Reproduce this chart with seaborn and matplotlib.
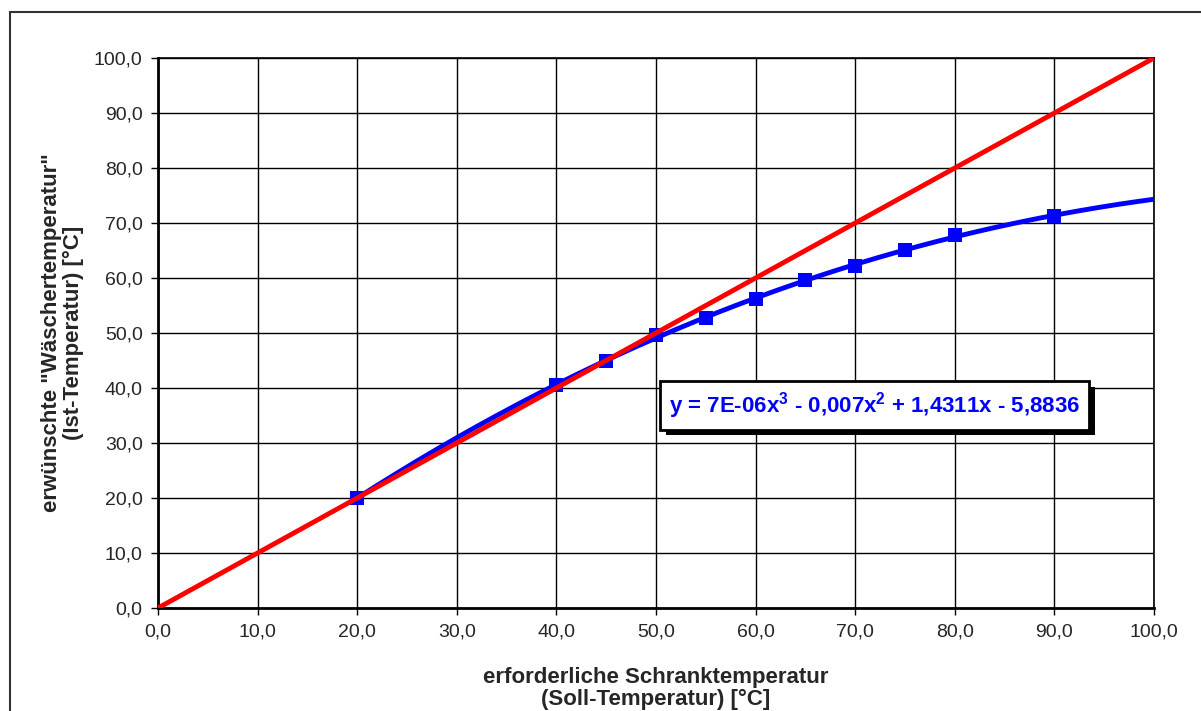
import numpy as np
import pandas as pd
import seaborn as sns
from matplotlib import pyplot as plt
from matplotlib import patches
from matplotlib import patheffects as pe
from matplotlib.ticker import FuncFormatter

# Messwerte (Soll -> Ist)
soll = [20, 40, 45, 50, 55, 60, 65, 70, 75, 80, 90]
ist = [20.0, 40.5, 45.0, 49.6, 52.7, 56.2, 59.6, 62.2, 65.1, 67.8, 71.3]
# Winkelhalbierende y = x
ref_x = [0, 100]
ref_y = [0, 100]
ticks = [0, 10, 20, 30, 40, 50, 60, 70, 80, 90, 100]
eq_text = r"y = 7E-06x$^\mathbf{3}$ - 0,007x$^\mathbf{2}$ + 1,4311x - 5,8836"

sns.set_style("white")
plt.rcParams['font.family'] = ['Liberation Sans', 'DejaVu Sans']
plt.rcParams['mathtext.fontset'] = 'custom'
plt.rcParams['mathtext.bf'] = 'Liberation Sans:bold'

fig = plt.figure(figsize=(12.01, 7.11), dpi=100)
ax = fig.add_axes([158 / 1201, 103 / 711, 996 / 1201, 550 / 711])

dfMess = pd.DataFrame({'soll': soll, 'ist': ist})

# Polynom-Trendlinie 3. Grades wie in Excel
coef = np.polyfit(dfMess['soll'], dfMess['ist'], 3)
xs = np.linspace(20, 100, 200)
dfTrend = pd.DataFrame({'soll': xs, 'ist': np.polyval(coef, xs)})

sns.lineplot(data=dfTrend, x='soll', y='ist', color='#0000ff', linewidth=3.5, ax=ax, zorder=3)
sns.scatterplot(data=dfMess, x='soll', y='ist', color='#0000ff', marker='s', s=110,
                edgecolor='#0000ff', linewidth=0, ax=ax, zorder=4)
sns.lineplot(x=ref_x, y=ref_y, color='#ff0000', linewidth=3.5, ax=ax, zorder=5)

ax.set_xlim(0, 100)
ax.set_ylim(0, 100)
ax.set_xticks(ticks)
ax.set_yticks(ticks)
fmt = FuncFormatter(lambda v, p: f"{v:.1f}".replace('.', ','))
ax.xaxis.set_major_formatter(fmt)
ax.yaxis.set_major_formatter(fmt)
ax.tick_params(direction='out', length=5, width=1, color='black', labelsize=14,
               bottom=True, left=True, pad=6)
ax.grid(True, color='black', linewidth=1)
for side in ['left', 'bottom']:
    ax.spines[side].set_linewidth(2)
for side in ['top', 'right']:
    ax.spines[side].set_linewidth(1.2)
for s in ax.spines.values():
    s.set_color('black')

ax.set_xlabel("erforderliche Schranktemperatur\n(Soll-Temperatur) [°C]",
              fontsize=16, fontweight='bold', labelpad=19, linespacing=1.05)
ax.set_ylabel("erwünschte \"Wäschertemperatur\"\n(Ist-Temperatur) [°C]",
              fontsize=16, fontweight='bold', labelpad=7, linespacing=1.05)

t = ax.text(0.7195, 0.368, eq_text, transform=ax.transAxes, ha='center', va='center',
            fontsize=16, fontweight='bold', color='#0000ff', zorder=10,
            bbox=dict(boxstyle='square,pad=0.4', facecolor='white', edgecolor='black', linewidth=2))
t.get_bbox_patch().set_path_effects([
    pe.SimplePatchShadow(offset=(4, -4), shadow_rgbFace='black', alpha=1), pe.Normal()])

# Rahmen um das Diagramm
fig.patches.append(patches.Rectangle((9.5 / 1201, -0.1), 1.2, (711 - 11.5) / 711 + 0.1,
                                     transform=fig.transFigure, fill=False,
                                     edgecolor='#333333', linewidth=1.5))

fig.savefig('out.png', dpi=100)
